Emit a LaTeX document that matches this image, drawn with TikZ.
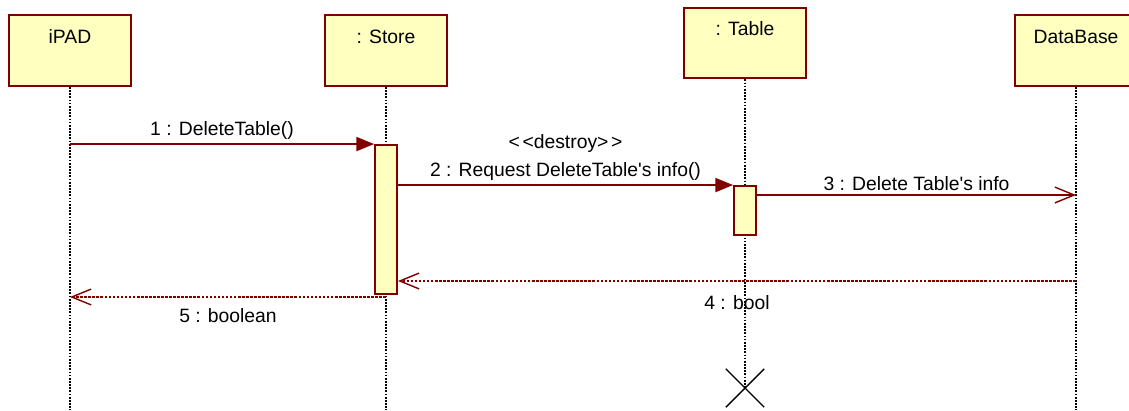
\documentclass[tikz,border=0pt]{standalone}
\usepackage{fontspec}
\setmainfont{Liberation Sans}
\usetikzlibrary{arrows.meta,shapes.misc}
\definecolor{darkred}{RGB}{128,0,0}
\definecolor{lightyellow}{RGB}{255,255,192}
\tikzset{
  obj/.style={draw=darkred,fill=lightyellow,line width=1.1pt,minimum width=2.44cm,inner sep=0pt,text height=16pt,text depth=24.3pt},
  act/.style={draw=darkred,fill=lightyellow,line width=1.1pt,minimum width=0.44cm,inner sep=0pt},
  life/.style={line width=0.6pt,dash pattern=on 1pt off 0.8pt},
  call/.style={darkred,line width=0.8pt,-{Triangle[length=10pt,width=8pt]}},
  send/.style={darkred,line width=0.8pt,-{Straight Barb[length=11pt,width=9pt]}},
  reply/.style={darkred,line width=0.8pt,dash pattern=on 1.5pt off 0.8pt,-{Straight Barb[length=11pt,width=9pt]}},
  msg/.style={text=black,inner sep=2pt}
}
\begin{document}
\begin{tikzpicture}[x=0.02cm,y=-0.02cm,font=\fontsize{11}{13}\selectfont]
\useasboundingbox (0,0) rectangle (1129,410);
\node[obj] (ipad) at (70,50.5) {iPAD};
\node[obj] (store) at (386,50.5) {: Store};
\node[obj] (table) at (745,43) {: Table};
\node[obj] (db) at (1076,50.5) {DataBase};
\node[cross out,draw,line width=0.8pt,minimum size=0.74cm,inner sep=0pt] (tend) at (745,388) {};
% lifelines
\draw[life] (ipad.south) -- (ipad |- 0,410);
\draw[life] (store.south) -- (store |- 0,410);
\draw[life] (table.south) -- (tend.center);
\draw[life] (db.south) -- (db |- 0,410);
% activations
\node[act,minimum height=2.98cm] (sact) at (386,219.5) {};
\node[act,minimum height=0.98cm] (tact) at (745,210.5) {};
% messages
\draw[call] (ipad |- sact.north) -- node[msg,above] (m1) {1 : DeleteTable()} (sact.north west);
\draw[call] (sact.east |- tact.north) -- node[msg,above,align=center] (m2) {<\kern1.5pt<destroy>\kern1.5pt>\\[3pt]2 : Request DeleteTable{\textquotesingle}s info()} (tact.north west);
\draw[send] (tact.east |- 0,195) -- node[msg,above] (m3) {3 : Delete Table{\textquotesingle}s info} (db |- 0,195);
\draw[reply] (db |- 0,281) -- node[msg,below=6pt] (m4) {4 : bool} (sact.east |- 0,281);
\draw[reply] (sact |- 0,297) -- node[msg,below=4pt] (m5) {5 : boolean} (ipad |- 0,297);
\end{tikzpicture}
\end{document}
